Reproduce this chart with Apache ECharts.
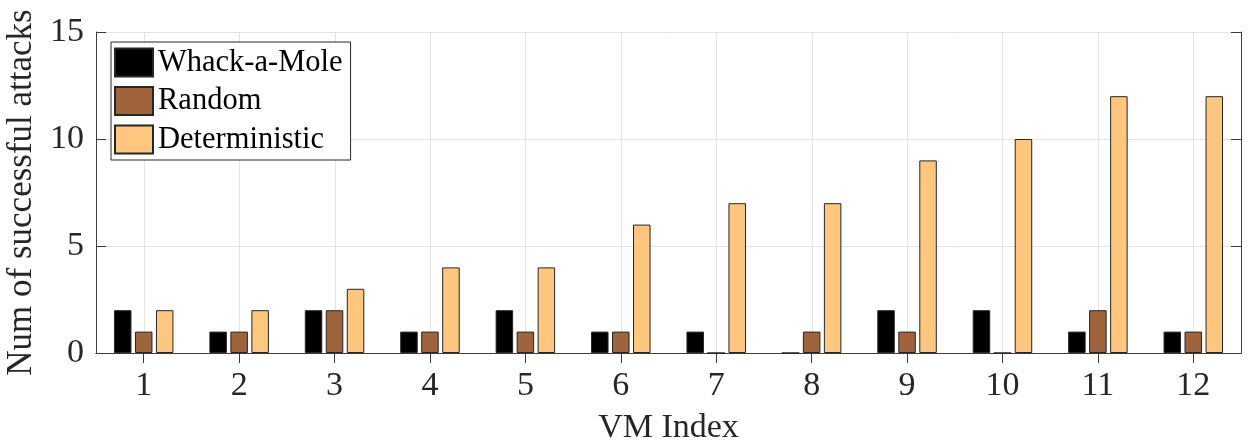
<!DOCTYPE html>
<html>
<head>
<meta charset="utf-8">
<script src="https://cdn.jsdelivr.net/npm/echarts@6/dist/echarts.min.js"></script>
<style>html,body{margin:0;padding:0;background:#fff}#c{width:1248px;height:445px}</style>
</head>
<body>
<div id="c"></div>
<script>
const categories = ['1','2','3','4','5','6','7','8','9','10','11','12'];
const whackAMole = [2,1,2,1,2,1,1,0,2,2,1,1];
const randomVals = [1,1,2,1,1,1,0,1,1,0,2,1];
const deterministic = [2,2,3,4,4,6,7,7,9,10,12,12];
const yTicks = [0,5,10,15];

const FONT = '"Liberation Serif", "Times New Roman", serif';
const TXT = '#262626';
const AX = '#3c3c3c';
const GRID = '#e3e3e3';
const Y_MAX = 15;

const chart = echarts.init(document.getElementById('c'), null, {renderer:'canvas'});
const barStyle = c => ({color:c, borderColor:'#262626', borderWidth:1});
chart.setOption({
  animation:false,
  grid:{left:96, right:7, top:32, bottom:92, containLabel:false, outerBoundsMode:'none'},
  legend:{
    orient:'vertical', left:111, top:42,
    itemWidth:38, itemHeight:28, itemGap:7.5,
    padding:[5,8,5,3],
    borderColor:'#262626', borderWidth:1, backgroundColor:'#fff',
    icon:'rect',
    textStyle:{fontFamily:FONT, fontSize:30.5, lineHeight:28, color:'#000'},
    data:['Whack-a-Mole','Random','Deterministic']
  },
  xAxis:[{
    type:'category', data:categories, position:'bottom',
    axisLine:{lineStyle:{color:AX, width:1}},
    axisTick:{show:false},
    axisLabel:{fontFamily:FONT, fontSize:34, color:TXT, margin:16},
    splitLine:{show:false},
    name:'VM Index', nameLocation:'middle', nameGap:58,
    nameTextStyle:{fontFamily:FONT, fontSize:34, color:TXT}
  },{
    type:'category', data:categories, position:'top',
    axisLine:{lineStyle:{color:AX, width:1}},
    axisTick:{show:true, alignWithLabel:true, inside:true, length:10, lineStyle:{color:AX}},
    axisLabel:{show:false},
    splitLine:{show:false}
  }],
  yAxis:[{
    type:'value', min:0, max:Y_MAX, interval:5,
    axisLine:{show:true, lineStyle:{color:AX, width:1}},
    axisTick:{show:true, inside:true, length:10, lineStyle:{color:AX}},
    axisLabel:{fontFamily:FONT, fontSize:34, color:TXT, margin:12,
      formatter: v => yTicks.includes(v) ? String(v) : ''},
    splitLine:{show:true, lineStyle:{color:GRID, width:1}},
    name:'Num of successful attacks', nameLocation:'middle', nameGap:46,
    nameTextStyle:{fontFamily:FONT, fontSize:35, color:TXT}
  },{
    type:'value', min:0, max:Y_MAX, interval:5, position:'right',
    axisLine:{show:true, lineStyle:{color:AX, width:1}},
    axisTick:{show:true, inside:true, length:10, lineStyle:{color:AX}},
    axisLabel:{show:false},
    splitLine:{show:false}
  }],
  series:[
    {type:'custom', silent:true, z:1, data: categories.map(c=>[c]),
     renderItem:(params, api) => {
       const p0 = api.coord([api.value(0), 0]);
       const p1 = api.coord([api.value(0), Y_MAX]);
       return {type:'line', shape:{x1:Math.round(p0[0])+0.5, y1:p0[1], x2:Math.round(p1[0])+0.5, y2:p1[1]},
               style:{stroke:GRID, lineWidth:1}};
     }},
    {name:'Whack-a-Mole', type:'bar', data:whackAMole, barWidth:17.5, barGap:'20%', itemStyle:barStyle('#000000'), z:3},
    {name:'Random', type:'bar', data:randomVals, barWidth:17.5, barGap:'20%', itemStyle:barStyle('#a0643c'), z:3},
    {name:'Deterministic', type:'bar', data:deterministic, barWidth:17.5, barGap:'20%', itemStyle:barStyle('#ffc77d'), z:3}
  ]
});
</script>
</body>
</html>
